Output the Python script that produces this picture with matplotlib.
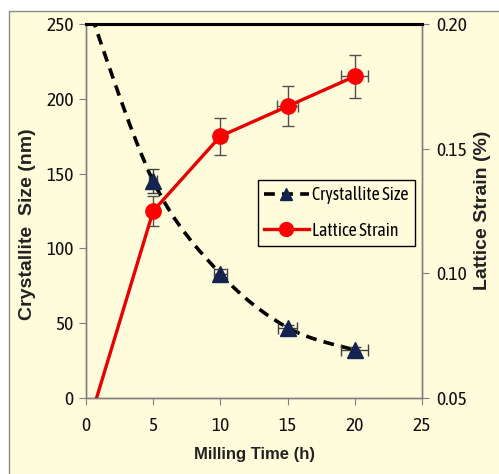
import matplotlib
matplotlib.use("Agg")
import matplotlib.pyplot as plt
from matplotlib.patches import Rectangle, PathPatch
from matplotlib.path import Path
from matplotlib.lines import Line2D
from matplotlib import font_manager
from matplotlib.font_manager import FontProperties

# ---- data ----
time_h = [0, 5, 10, 15, 20]
crystallite_size = [266, 145, 83, 47, 32]
size_yerr = [0, 8, 3, 2, 2]
size_xerr = [0, 0.3, 0.5, 0.7, 1.0]
lattice_strain = [0.036, 0.125, 0.155, 0.167, 0.179]
strain_yerr = [0, 0.006, 0.0075, 0.008, 0.0085]
strain_xerr = [0, 0.2, 0.4, 0.8, 1.0]
x_ticks = [0, 5, 10, 15, 20, 25]
left_ticks = [0, 50, 100, 150, 200, 250]
right_ticks = [0.05, 0.10, 0.15, 0.20]

# pick a narrow regular font if one is installed
entries = font_manager.fontManager.ttflist
narrow_path = None
def _stretch_ok(e):
    return str(e.stretch) in ("condensed", "semi-condensed", "extra-condensed") or \
        (isinstance(e.stretch, int) and e.stretch < 500)
prefs = [
    lambda e: e.name in ("Liberation Sans Narrow", "Arial Narrow") and e.weight in (400, "normal") and e.style == "normal",
    lambda e: "Condensed" in e.name and e.weight in (400, "normal") and e.style == "normal",
    lambda e: e.name == "DejaVu Sans" and _stretch_ok(e) and e.weight in (400, "normal") and e.style == "normal",
    lambda e: "Narrow" in e.name and e.style == "normal",
]
for p in prefs:
    for e in entries:
        try:
            if p(e):
                narrow_path = e.fname
                break
        except Exception:
            pass
    if narrow_path:
        break
names = {e.name for e in entries}
if narrow_path:
    tick_fp = FontProperties(fname=narrow_path, size=14)
    leg_fp = FontProperties(fname=narrow_path, size=13)
else:
    base = "Liberation Sans" if "Liberation Sans" in names else "DejaVu Sans"
    tick_fp = FontProperties(family=base, size=11.5)
    leg_fp = FontProperties(family=base, size=11)
bold_font = ["Liberation Sans", "Arial", "DejaVu Sans"]

cream = "#FFFCDC"
fig = plt.figure(figsize=(4.99, 4.74), dpi=100, facecolor="white")
frame = Rectangle((9/499, -0.01), 1.0, (474-11)/474 + 0.01,
                  transform=fig.transFigure, facecolor=cream,
                  edgecolor="#8a8a8a", linewidth=1.0, zorder=-10)
fig.patches.append(frame)

ax = fig.add_axes([86/499, 76/474, 336/499, 374/474])
ax.set_facecolor(cream)
ax.set_xlim(0, 25)
ax.set_ylim(0, 250)
ax2 = ax.twinx()
ax2.set_ylim(0.05, 0.20)

for a in (ax, ax2):
    for s in ("left", "right", "bottom"):
        a.spines[s].set_color("#7f7f7f")
        a.spines[s].set_linewidth(1.0)
    a.spines["top"].set_color("black")
    a.spines["top"].set_linewidth(2.2)

ax.set_xticks(x_ticks)
ax.set_yticks(left_ticks)
ax2.set_yticks(right_ticks)
ax2.set_yticklabels([f"{v:.2f}" for v in right_ticks])
ax.tick_params(axis="y", direction="out", length=5, color="#7f7f7f", pad=4)
ax.tick_params(axis="x", direction="out", length=5, color="#7f7f7f", pad=9)
ax2.tick_params(axis="y", direction="out", length=5, color="#7f7f7f", pad=5)
for lab in ax.get_xticklabels() + ax.get_yticklabels() + ax2.get_yticklabels():
    lab.set_fontproperties(tick_fp)
    lab.set_color("#111111")

# smooth (Excel-style) dashed curve for crystallite size, built as a Bezier path
pts = list(zip(time_h, crystallite_size))
verts = [pts[0]]
codes = [Path.MOVETO]
n = len(pts)
for i in range(n - 1):
    p0 = pts[i - 1] if i > 0 else pts[i]
    p1 = pts[i]
    p2 = pts[i + 1]
    p3 = pts[i + 2] if i + 2 < n else pts[i + 1]
    c1 = (p1[0] + (p2[0] - p0[0]) / 6, p1[1] + (p2[1] - p0[1]) / 6)
    c2 = (p2[0] - (p3[0] - p1[0]) / 6, p2[1] - (p3[1] - p1[1]) / 6)
    verts += [c1, c2, p2]
    codes += [Path.CURVE4] * 3
ax.add_patch(PathPatch(Path(verts, codes), facecolor="none", edgecolor="black",
                       linewidth=2.6, linestyle=(0, (3, 2)), zorder=3))
ax.errorbar(time_h[1:], crystallite_size[1:], yerr=size_yerr[1:], xerr=size_xerr[1:],
            fmt="none", ecolor="#404040", elinewidth=1, capsize=4, zorder=4)
ax.plot(time_h[1:], crystallite_size[1:], linestyle="none", marker="^",
        markersize=11, color="#14234f", zorder=5)

ax2.errorbar(time_h[1:], lattice_strain[1:], yerr=strain_yerr[1:], xerr=strain_xerr[1:],
             fmt="none", ecolor="#505050", elinewidth=1, capsize=4, zorder=2)
ax2.plot(time_h, lattice_strain, color="#e60000", linewidth=2.4, zorder=3)
ax2.plot(time_h[1:], lattice_strain[1:], linestyle="none", marker="o",
         markersize=11, color="#ff0000", zorder=4)

ax.set_xlabel("Milling Time (h)", fontsize=12, fontweight="bold",
              fontfamily=bold_font, color="#222222")
ax.xaxis.set_label_coords((255 - 86) / 336, (398 - 455) / 374)
ax.set_ylabel("Crystallite  Size (nm)", fontsize=14, fontweight="bold",
              fontfamily=bold_font, color="#222222")
ax.yaxis.set_label_coords((27 - 86) / 336, (398 - 224) / 374)
ax2.set_ylabel("Lattice Strain (%)", fontsize=14, fontweight="bold",
               fontfamily=bold_font, color="#222222")
ax2.yaxis.set_label_coords((483 - 86) / 336, (398 - 210) / 374)
ax.xaxis.label.set_verticalalignment("center")
ax.yaxis.label.set_verticalalignment("center")
ax2.yaxis.label.set_verticalalignment("center")

h1 = Line2D([], [], color="black", linestyle=(0, (3, 2)), linewidth=2.6,
            marker="^", markersize=9, markerfacecolor="#14234f", markeredgecolor="#14234f")
h2 = Line2D([], [], color="#e60000", linewidth=2.4, marker="o", markersize=10,
            markerfacecolor="#ff0000", markeredgecolor="#ff0000")
leg = ax2.legend([h1, h2], ["Crystallite Size", "Lattice Strain"],
                 loc="upper left", bbox_to_anchor=(0.512, 0.583),
                 prop=leg_fp, frameon=True, fancybox=False,
                 edgecolor="black", facecolor=cream, framealpha=1,
                 handlelength=2.45, labelspacing=0.97, borderpad=0.35,
                 handletextpad=0.2, borderaxespad=0)
leg.get_frame().set_linewidth(1.0)

fig.savefig("out.png", dpi=100, facecolor=fig.get_facecolor())
